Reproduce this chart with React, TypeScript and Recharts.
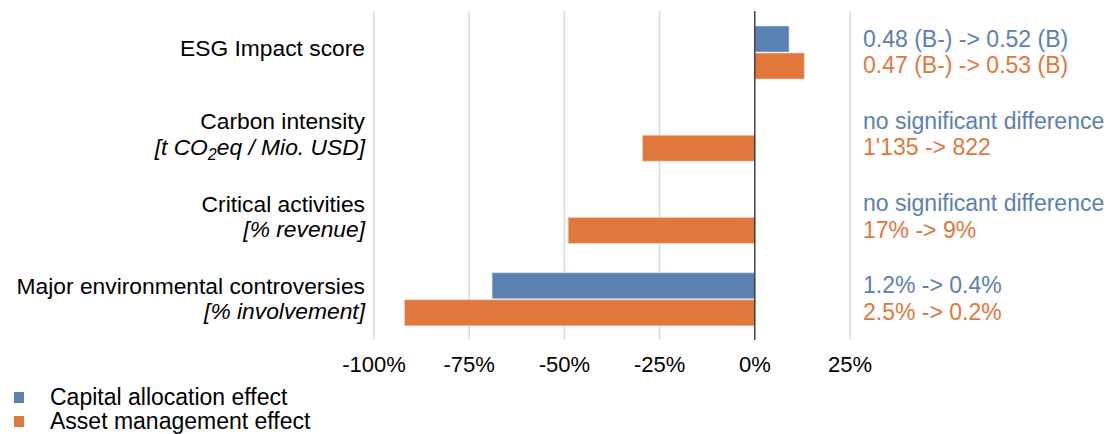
import React from 'react';
import {
  BarChart,
  Bar,
  XAxis,
  YAxis,
  CartesianGrid,
  ReferenceLine,
  Legend,
} from 'recharts';

const categories = [
  'ESG Impact score',
  'Carbon intensity',
  'Critical activities',
  'Major environmental controversies',
];
const units = ['', '[t CO2eq / Mio. USD]', '[% revenue]', '[% involvement]'];

const capitalAllocation = [9, 0, 0, -69];
const assetManagement = [13, -29.5, -49, -92];

const capitalNotes = [
  '0.48 (B-) -> 0.52 (B)',
  'no significant difference',
  'no significant difference',
  '1.2% -> 0.4%',
];
const assetNotes = ['0.47 (B-) -> 0.53 (B)', "1'135 -> 822", '17% -> 9%', '2.5% -> 0.2%'];

const xTicks = [-100, -75, -50, -25, 0, 25];

const BLUE = '#5b80b2';
const ORANGE = '#e1773a';
const FONT = '"Liberation Sans", Arial, sans-serif';

const data = categories.map((name, i) => ({
  name,
  unit: units[i],
  capital: capitalAllocation[i],
  asset: assetManagement[i],
  capitalNote: capitalNotes[i],
  assetNote: assetNotes[i],
}));

// renders "CO2" with a lowered 2
function unitText(unit: string) {
  const idx = unit.indexOf('CO2');
  if (idx < 0) return unit;
  return (
    <>
      {unit.slice(0, idx + 2)}
      <tspan dy={5} fontSize={16}>2</tspan>
      <tspan dy={-5}>{unit.slice(idx + 3)}</tspan>
    </>
  );
}

function CategoryTick(props: any) {
  const { x, y, index } = props;
  const row = data[index];
  if (!row) return null;
  const tx = x - 1;
  const common = { x: tx, dy: '0.35em', textAnchor: 'end' as const, fontFamily: FONT, fontSize: 22.8, fill: '#000' };
  if (!row.unit) {
    return (
      <text {...common} y={y - 4}>
        {row.name}
      </text>
    );
  }
  return (
    <g>
      <text {...common} y={y - 13}>
        {row.name}
      </text>
      <text {...common} y={y + 12.5} fontStyle="italic">
        {unitText(row.unit)}
      </text>
    </g>
  );
}

function NoteTick(props: any) {
  const { x, y, index } = props;
  const row = data[index];
  if (!row) return null;
  const tx = x + 5;
  return (
    <g>
      <text x={tx} y={y - 13.5} dy="0.35em" fontFamily={FONT} fontSize={23} fill={BLUE}>
        {row.capitalNote}
      </text>
      <text x={tx} y={y + 13} dy="0.35em" fontFamily={FONT} fontSize={23} fill={ORANGE}>
        {row.assetNote}
      </text>
    </g>
  );
}

function LegendContent() {
  const items = [
    { label: 'Capital allocation effect', color: BLUE },
    { label: 'Asset management effect', color: ORANGE },
  ];
  return (
    <div style={{ height: 56, paddingTop: 7, boxSizing: 'border-box', fontFamily: FONT, fontSize: 23, color: '#000' }}>
      {items.map((it) => (
        <div key={it.label} style={{ height: 24, display: 'flex', alignItems: 'center' }}>
          <span
            style={{
              display: 'inline-block',
              width: 10,
              height: 11,
              background: it.color,
              marginLeft: 14,
              marginRight: 26,
            }}
          />
          <span>{it.label}</span>
        </div>
      ))}
    </div>
  );
}

export default function App() {
  return (
    <div style={{ position: 'absolute', left: 0, top: 0, width: 1110, height: 434 }}>
      <BarChart
        width={1110}
        height={434}
        data={data}
        layout="vertical"
        margin={{ top: 11, right: 0, bottom: 0, left: 0 }}
        barSize={26}
        barGap={1}
      >
        <CartesianGrid yAxisId="cat" horizontal={false} vertical stroke="#d9d9d9" strokeWidth={1.5} />
        <XAxis
          type="number"
          domain={[-100, 25]}
          ticks={xTicks}
          tickFormatter={(v: number) => `${v}%`}
          axisLine={false}
          tickLine={false}
          height={38}
          tick={{ fontFamily: FONT, fontSize: 22, fill: '#000' }}
          tickMargin={10}
          interval={0}
        />
        <YAxis
          yAxisId="cat"
          type="category"
          dataKey="name"
          width={374}
          axisLine={false}
          tickLine={false}
          tick={<CategoryTick />}
          interval={0}
        />
        <YAxis
          yAxisId="notes"
          orientation="right"
          type="category"
          dataKey="name"
          width={260}
          axisLine={false}
          tickLine={false}
          tick={<NoteTick />}
          interval={0}
        />
        <ReferenceLine yAxisId="cat" x={0} stroke="#222" strokeWidth={1.2} />
        <Legend verticalAlign="bottom" align="left" content={<LegendContent />} />
        <Bar
          yAxisId="cat"
          dataKey="capital"
          name="Capital allocation effect"
          fill={BLUE}
          stroke="#dfe6f0"
          strokeWidth={0.6}
          isAnimationActive={false}
        />
        <Bar
          yAxisId="cat"
          dataKey="asset"
          name="Asset management effect"
          fill={ORANGE}
          stroke="#f5d8c8"
          strokeWidth={0.6}
          isAnimationActive={false}
        />
      </BarChart>
    </div>
  );
}
